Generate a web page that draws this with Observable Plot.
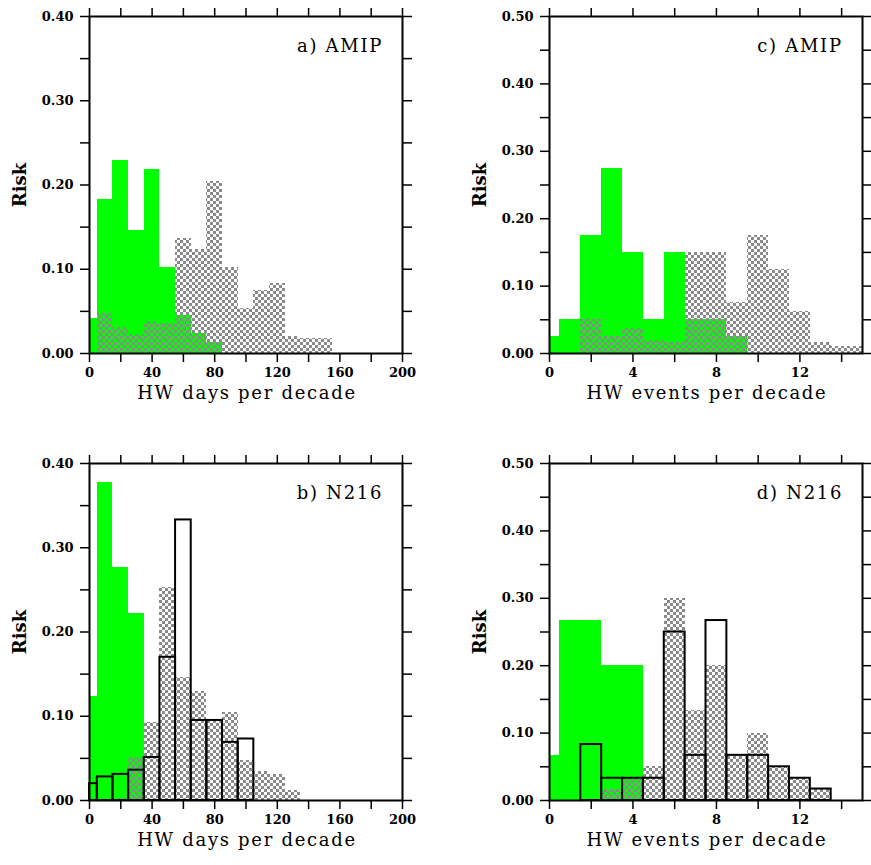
<!DOCTYPE html>
<html><head><meta charset="utf-8">
<script src="https://cdn.jsdelivr.net/npm/d3@7"></script>
<script src="https://cdn.jsdelivr.net/npm/@observablehq/plot@0.6"></script>
<style>
body{margin:0;background:#fff;}
#wrap{position:relative;width:871px;height:865px;background:#fff;}
#wrap svg{position:absolute;}
</style></head><body><div id="wrap"></div>
<script>
// ---- data (bin i is centred at i * binWidth) ----
const daysBinWidth = 10;
const eventsBinWidth = 1;

const aGreen = [0.042, 0.183, 0.229, 0.146, 0.218, 0.102, 0.045, 0.024, 0.013];
const aGray  = [0, 0.047, 0.031, 0.022, 0.0375, 0.036, 0.136, 0.123, 0.204, 0.102, 0.053, 0.075, 0.083, 0.020, 0.018, 0.018];

const bGreen   = [0.123, 0.377, 0.277, 0.222];
const bGray    = [0, 0, 0.002, 0.051, 0.093, 0.253, 0.146, 0.129, 0.095, 0.105, 0.048, 0.034, 0.031, 0.012];
const bOutline = [0.020, 0.028, 0.031, 0.036, 0.051, 0.170, 0.333, 0.095, 0.095, 0.069, 0.073];

const cGreen = [0.025, 0.05, 0.175, 0.275, 0.15, 0.05, 0.15, 0.05, 0.05, 0.025];
const cGray  = [0, 0, 0.05, 0.025, 0.037, 0.02, 0.017, 0.15, 0.15, 0.075, 0.175, 0.125, 0.0625, 0.017, 0.01, 0.01];

const dGreen   = [0.067, 0.267, 0.267, 0.2, 0.2];
const dGray    = [0, 0, 0, 0.016, 0.033, 0.05, 0.3, 0.133, 0.2, 0.067, 0.1, 0.05, 0.033, 0.017];
const dOutline = [0, 0, 0.083, 0.033, 0.033, 0.033, 0.25, 0.067, 0.267, 0.067, 0.067, 0.05, 0.033, 0.017];

// ---- ticks and labels ----
const daysTicks = [0, 20, 40, 60, 80, 100, 120, 140, 160, 180, 200];
const daysTickLabels = [0, 40, 80, 120, 160, 200];
const eventsTicks = [0, 2, 4, 6, 8, 10, 12, 14];
const eventsTickLabels = [0, 4, 8, 12];
const yTicks40 = [0, 0.05, 0.10, 0.15, 0.20, 0.25, 0.30, 0.35, 0.40];
const yTicks50 = [0, 0.05, 0.10, 0.15, 0.20, 0.25, 0.30, 0.35, 0.40, 0.45, 0.50];
const yTickLabels = [0, 0.1, 0.2, 0.3, 0.4, 0.5];

const panelLabels = ["a) AMIP", "b) N216", "c) AMIP", "d) N216"];
const xTitles = ["HW days per decade", "HW events per decade"];
const yTitle = "Risk";

const FONT = "DejaVu Serif";

function panel(o) {
  const rows = vals => vals
    .map((v, i) => ({x1: Math.max(i * o.binW - o.binW / 2, 0), x2: Math.min(i * o.binW + o.binW / 2, o.xmax), v}))
    .filter(d => d.v > 0);
  const has = arr => d => arr.some(a => Math.abs(a - d) < 1e-9);
  const svg = Plot.plot({
    width: 440, height: 430,
    marginLeft: 89, marginRight: 38, marginTop: 16, marginBottom: 77,
    style: {fontFamily: FONT, fontSize: "13px", fontWeight: "bold", background: "white", color: "black", overflow: "visible"},
    x: {domain: [0, o.xmax], label: null},
    y: {domain: [0, o.ymax], label: null},
    marks: [
      Plot.rectY(rows(o.green), {x1: "x1", x2: "x2", y1: 0, y2: "v", fill: "#00ff00", shapeRendering: "crispEdges"}),
      Plot.rectY(rows(o.gray), {x1: "x1", x2: "x2", y1: 0, y2: "v", fill: `url(#${o.id})`, shapeRendering: "crispEdges"}),
      o.outline ? Plot.rectY(rows(o.outline), {x1: "x1", x2: "x2", y1: 0, y2: "v", fill: "none", stroke: "black", strokeWidth: 2}) : null,
      Plot.axisX({anchor: "bottom", ticks: o.xTicks, tickSize: 9, tickPadding: 5, strokeWidth: 1.5, tickFormat: d => has(o.xLabels)(d) ? String(d) : "", fontSize: 13, fontWeight: "bold"}),
      Plot.axisX({anchor: "top", ticks: o.xTicks, tickSize: 9, strokeWidth: 1.5, tickFormat: () => ""}),
      Plot.axisY({anchor: "left", ticks: o.yTicks, tickSize: 9, tickPadding: 7, strokeWidth: 1.5, tickFormat: d => has(yTickLabels)(d) ? d.toFixed(2) : "", fontSize: 13, fontWeight: "bold"}),
      Plot.axisY({anchor: "right", ticks: o.yTicks, tickSize: 9, strokeWidth: 1.5, tickFormat: () => ""}),
      Plot.frame({stroke: "black", strokeWidth: 2}),
      Plot.text([o.label], {frameAnchor: "top", dx: 94, dy: 30, lineAnchor: "middle", textAnchor: "middle", fontSize: 18, fontWeight: "normal", fontFamily: FONT}),
      Plot.text([o.xTitle], {frameAnchor: "bottom", dy: 40, dx: 1, lineAnchor: "middle", textAnchor: "middle", fontSize: 18, fontWeight: "normal", fontFamily: FONT}),
      Plot.text([yTitle], {frameAnchor: "left", dx: -69, rotate: -90, lineAnchor: "middle", textAnchor: "middle", fontSize: 18, fontWeight: "bold", fontFamily: FONT})
    ]
  });
  const s = d3.select(svg);
  const defs = s.insert("defs", ":first-child");
  const p = defs.append("pattern").attr("id", o.id).attr("patternUnits", "userSpaceOnUse").attr("width", 6).attr("height", 6);
  p.append("rect").attr("x", 0).attr("y", 0).attr("width", 3).attr("height", 3).attr("fill", "#8a8a8a");
  p.append("rect").attr("x", 3).attr("y", 3).attr("width", 3).attr("height", 3).attr("fill", "#8a8a8a");
  s.selectAll("text")
    .filter(function() { const t = this.textContent; return t === o.label || t === o.xTitle; })
    .style("letter-spacing", "1.7px");
  svg.style.left = o.left + "px";
  svg.style.top = o.top + "px";
  document.getElementById("wrap").appendChild(svg);
}

panel({id: "chkA", left: 0, top: 0, label: panelLabels[0], xTitle: xTitles[0], binW: daysBinWidth, xmax: 200, xTicks: daysTicks, xLabels: daysTickLabels, ymax: 0.4, yTicks: yTicks40, green: aGreen, gray: aGray});
panel({id: "chkB", left: 0, top: 447, label: panelLabels[1], xTitle: xTitles[0], binW: daysBinWidth, xmax: 200, xTicks: daysTicks, xLabels: daysTickLabels, ymax: 0.4, yTicks: yTicks40, green: bGreen, gray: bGray, outline: bOutline});
panel({id: "chkC", left: 460, top: 0, label: panelLabels[2], xTitle: xTitles[1], binW: eventsBinWidth, xmax: 15, xTicks: eventsTicks, xLabels: eventsTickLabels, ymax: 0.5, yTicks: yTicks50, green: cGreen, gray: cGray});
panel({id: "chkD", left: 460, top: 447, label: panelLabels[3], xTitle: xTitles[1], binW: eventsBinWidth, xmax: 15, xTicks: eventsTicks, xLabels: eventsTickLabels, ymax: 0.5, yTicks: yTicks50, green: dGreen, gray: dGray, outline: dOutline});
</script>
</body></html>
